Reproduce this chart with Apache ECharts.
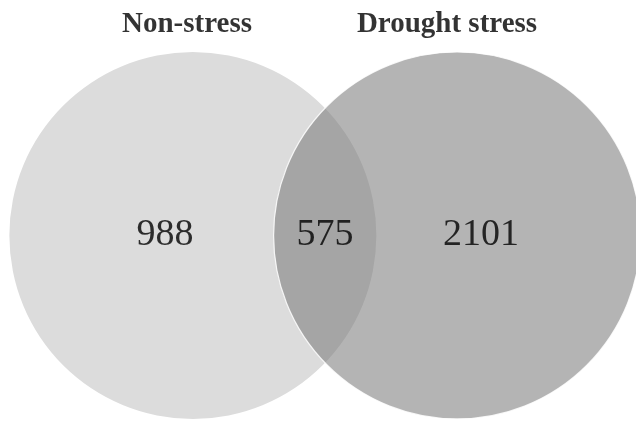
<!DOCTYPE html>
<html>
<head>
  <meta charset="utf-8">
</head>
<body style="margin: 0; background: #fff">
  <div id="container" style="width: 636px; height: 421px"></div>
  <script type="text/javascript" src="https://fastly.jsdelivr.net/npm/echarts@6/dist/echarts.min.js"></script>
  <script type="text/javascript">
    // data
    const setNames = ['Non-stress', 'Drought stress'];
    const onlyCounts = [988, 2101];
    const sharedCount = 575;

    // layout, in axis units (circle radius = 1)
    const circleX = [-0.72, 0.72];
    const titleX = [-0.752, 0.665];
    const titleY = 1.15;
    const countX = [-0.872, 0.85];
    const countY = 0.0;

    var dom = document.getElementById('container');
    var myChart = echarts.init(dom, null, { renderer: 'canvas' });

    const circleColors = ['#dcdcdc', 'rgba(124,124,124,0.571)'];

    const countData = [
      [countX[0], countY, onlyCounts[0]],
      [(circleX[0] + circleX[1]) / 2, countY, sharedCount],
      [countX[1], countY, onlyCounts[1]]
    ];

    var option = {
      animation: false,
      grid: { left: 0, right: 0, top: 0, bottom: 0 },
      xAxis: { type: 'value', min: -1.771, max: 1.695, show: false },
      yAxis: { type: 'value', min: -1.011, max: 1.283, show: false },
      series: [
        {
          type: 'custom',
          clip: false,
          data: circleX.map(x => [x, 0]),
          renderItem: function (params, api) {
            const c = api.coord([api.value(0), api.value(1)]);
            const r = api.size([1, 1])[0];
            return {
              type: 'circle',
              shape: { cx: c[0], cy: c[1], r: r },
              style: {
                fill: circleColors[params.dataIndex],
                stroke: params.dataIndex === 1 ? 'rgba(255,255,255,0.85)' : null,
                lineWidth: params.dataIndex === 1 ? 1.2 : 0
              }
            };
          }
        },
        {
          type: 'scatter',
          symbolSize: 0,
          silent: true,
          data: countData,
          label: {
            show: true,
            position: 'inside',
            formatter: p => p.value[2],
            fontFamily: 'Liberation Serif',
            fontSize: 38,
            color: '#000',
            textBorderWidth: 0
          }
        },
        {
          type: 'scatter',
          symbolSize: 0,
          silent: true,
          data: setNames.map((n, i) => ({ value: [titleX[i], titleY], name: n })),
          label: {
            show: true,
            position: 'inside',
            formatter: p => p.name,
            fontFamily: 'Liberation Serif',
            fontWeight: 'bold',
            fontSize: 29,
            color: '#000',
            textBorderWidth: 0
          }
        }
      ]
    };

    myChart.setOption(option);
    window.addEventListener('resize', myChart.resize);
  </script>
</body>
</html>
